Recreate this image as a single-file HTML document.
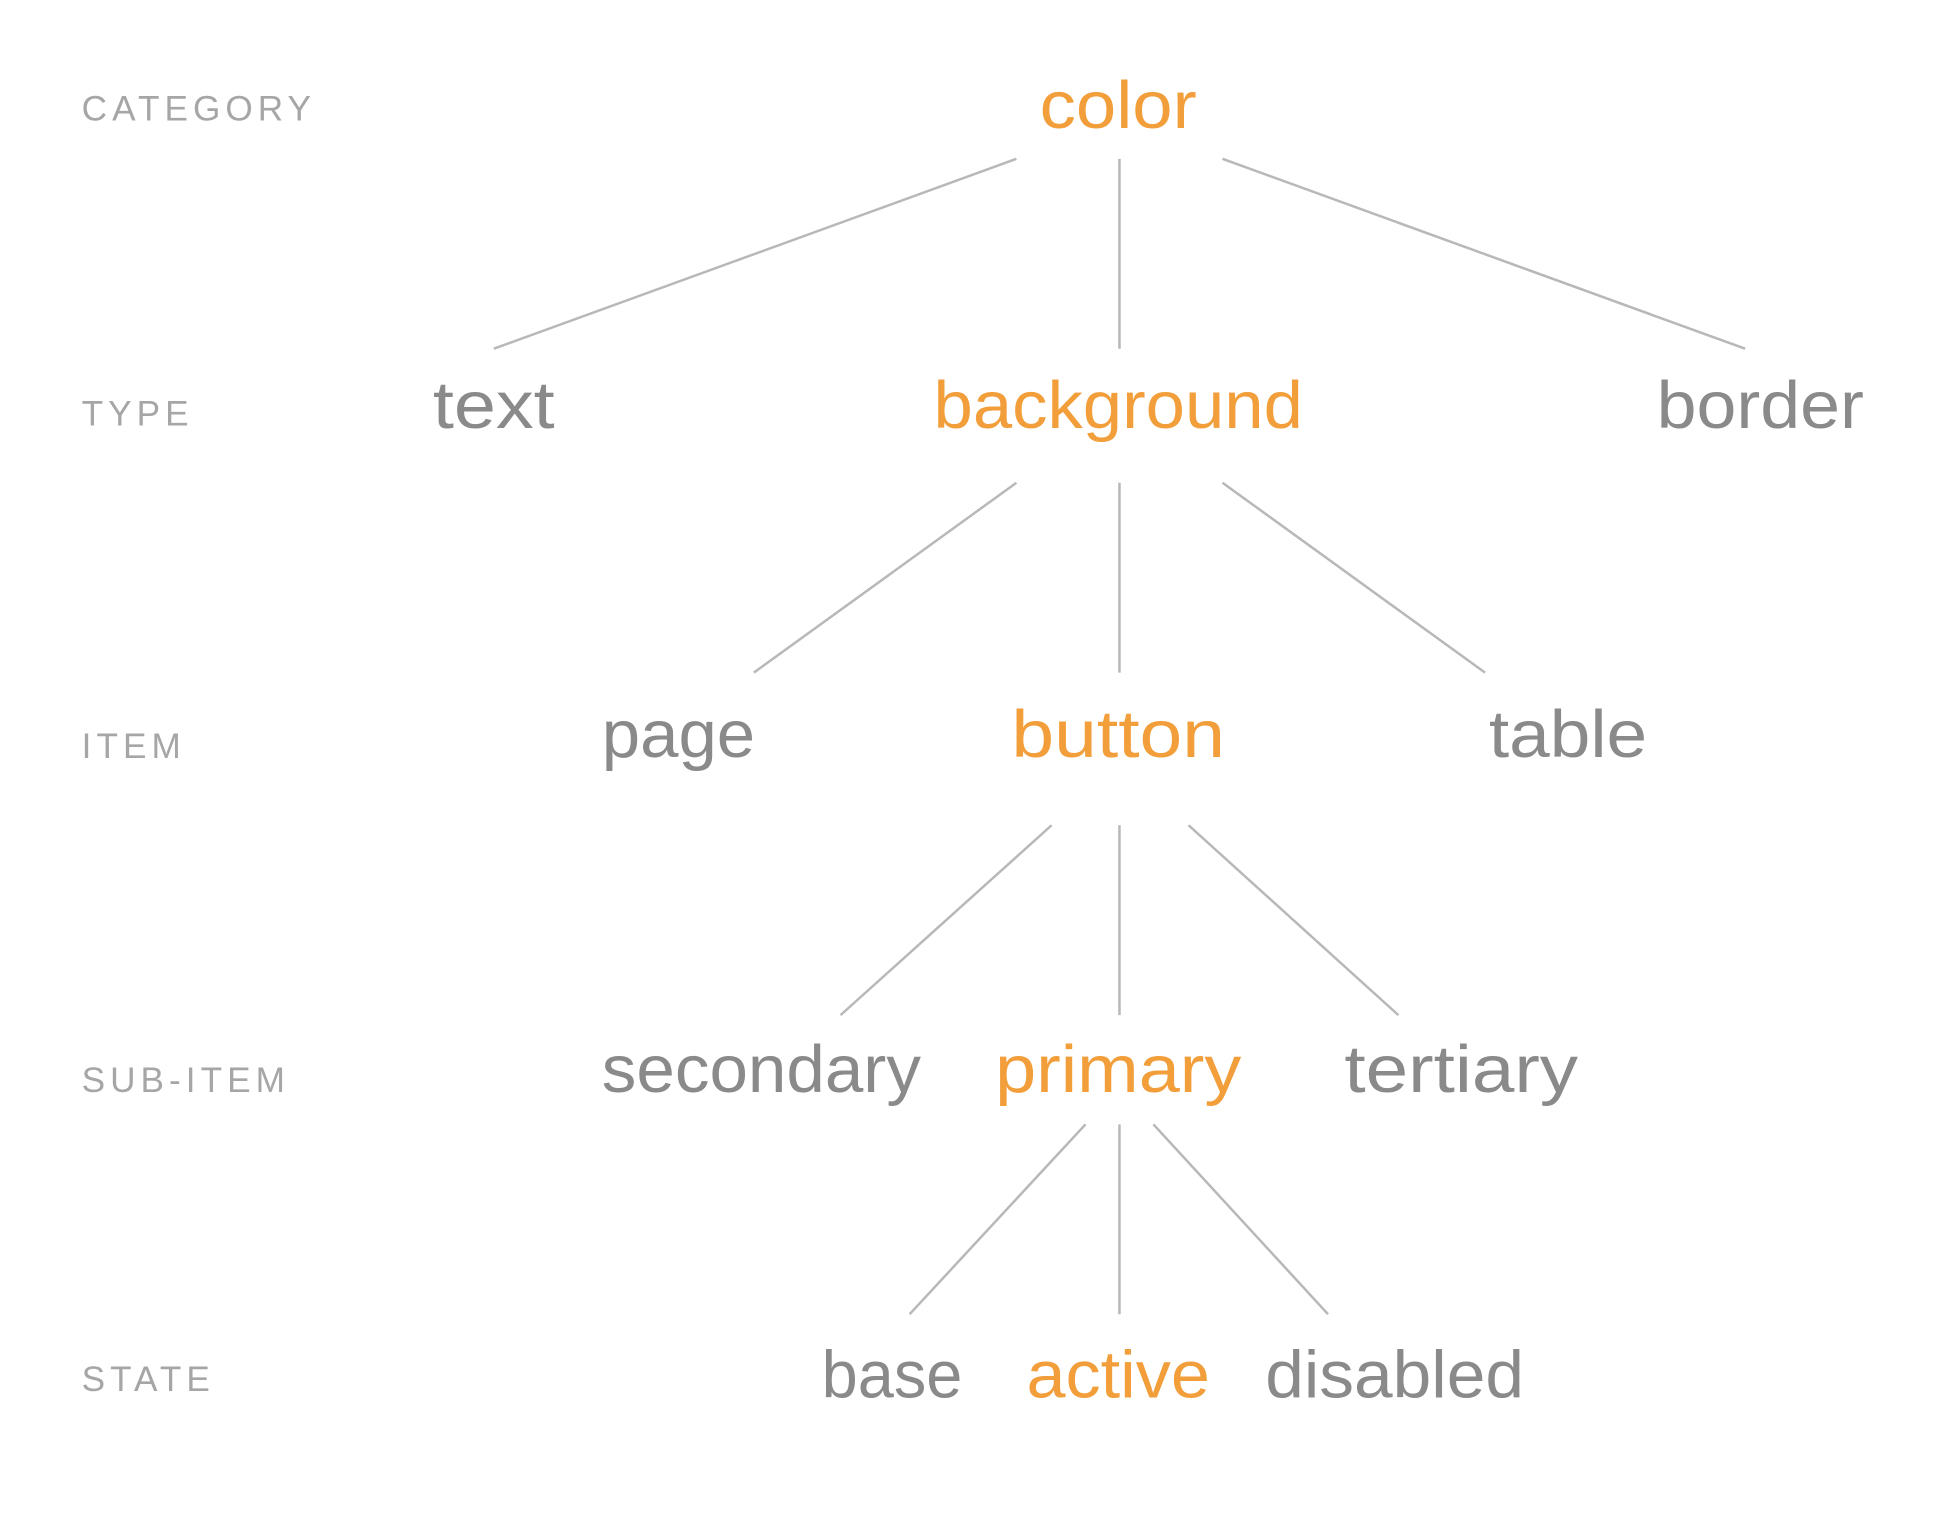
<!DOCTYPE html>
<html><head><meta charset="utf-8"><style>
html,body{margin:0;padding:0;background:#fff;}
svg{display:block;}
</style></head><body>
<svg id="tree" width="1960" height="1514" viewBox="0 0 1560 1220" preserveAspectRatio="none" xmlns="http://www.w3.org/2000/svg"></svg>
<script>
const levelNames = ["CATEGORY","TYPE","ITEM","SUB-ITEM","STATE"];
const levelLabelY = [97,343,611,880,1121];
const nodeLevelY = [103,345,610,880,1126];
const nodeLabels = ["color","text","background","border","page","button","table","secondary","primary","tertiary","base","active","disabled"];
const nodeLevels = [0,1,1,1,2,2,2,3,3,3,4,4,4];
const nodeX = [890,393,890,1401,540,890,1248,606,890,1163,710,890,1110];
const nodeW = [125,97,294,165,122,170,126,254,196,186,112,146,206];
const nodeActive = [1,0,1,0,0,1,0,0,1,0,0,1,0];
const edgeFrom = [0,0,0,2,2,2,5,5,5,8,8,8];
const edgeTo = [1,2,3,4,5,6,7,8,9,10,11,12];
const edgeStartX = [809,891,973,809,891,973,837,891,946,864,891,918];
const edgeEndX = [393,891,1389,600,891,1182,669,891,1113,724,891,1057];
const edgeTopY = [128,389,665,906];
const edgeBotY = [281,542,818,1059];

const NS="http://www.w3.org/2000/svg";
const svg=document.getElementById('tree');
levelNames.forEach((n,i)=>{
  const t=document.createElementNS(NS,'text');
  
  
  t.setAttribute('x',65);t.setAttribute('y',levelLabelY[i]);
  t.setAttribute('font-family','"Liberation Sans", sans-serif');
  t.setAttribute('font-size','28');t.setAttribute('letter-spacing','4');
  t.setAttribute('fill','#a6a6a6');
  t.textContent=n;svg.appendChild(t);
});
edgeFrom.forEach((f,i)=>{
  const lvl=nodeLevels[f];
  const l=document.createElementNS(NS,'line');
  
  
  l.setAttribute('x1',edgeStartX[i]);l.setAttribute('y1',edgeTopY[lvl]);
  l.setAttribute('x2',edgeEndX[i]);l.setAttribute('y2',edgeBotY[lvl]);
  l.setAttribute('stroke','#b8b8b8');l.setAttribute('stroke-width','2');
  svg.appendChild(l);
});
nodeLabels.forEach((n,i)=>{
  const t=document.createElementNS(NS,'text');
  
  
  t.setAttribute('x',nodeX[i]);t.setAttribute('y',nodeLevelY[nodeLevels[i]]);
  t.setAttribute('text-anchor','middle');
  t.setAttribute('font-family','"Liberation Sans", sans-serif');
  t.setAttribute('font-size','54');
  t.setAttribute('textLength',nodeW[i]);t.setAttribute('lengthAdjust','spacingAndGlyphs');
  t.setAttribute('fill',nodeActive[i]?'#f29e3a':'#8a8a8a');
  t.textContent=n;svg.appendChild(t);
});
</script>
</body></html>
